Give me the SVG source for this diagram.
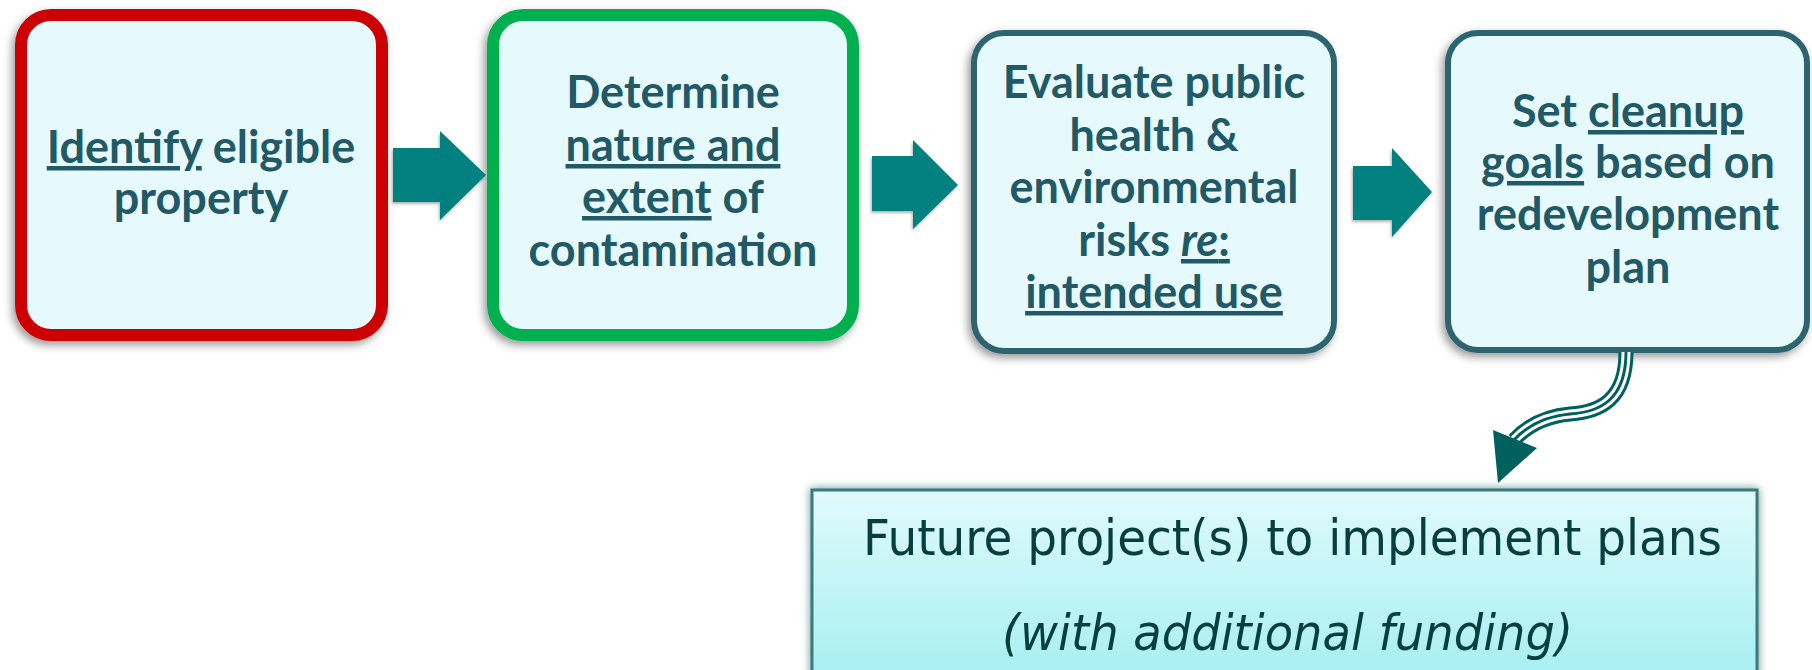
<svg xmlns="http://www.w3.org/2000/svg" width="1812" height="670" viewBox="0 0 1812 670">
<defs>
<style>
.box{fill:#E6FAFD;}
.t{font-family:Lato,"Liberation Sans",sans-serif;font-weight:bold;font-size:45px;fill:#215967;text-anchor:middle;}
.u{text-decoration:underline;}
.blk{fill:#00807E;}
.bt{font-family:"DejaVu Sans","Liberation Sans",sans-serif;font-size:50px;fill:#073F40;}
</style>
<filter id="sh" x="-10%" y="-10%" width="120%" height="125%">
<feDropShadow dx="-3" dy="4" stdDeviation="4" flood-color="#000" flood-opacity="0.4"/>
</filter>
<filter id="ash" x="-20%" y="-20%" width="140%" height="140%">
<feDropShadow dx="-1" dy="2" stdDeviation="1.5" flood-color="#000" flood-opacity="0.3"/>
</filter>
<filter id="glow" x="-5%" y="-10%" width="110%" height="130%">
<feDropShadow dx="0" dy="0" stdDeviation="4" flood-color="#1E5F60" flood-opacity="0.7"/>
</filter>
<linearGradient id="bg" x1="0" y1="0" x2="0" y2="1">
<stop offset="0" stop-color="#E0FAFB"/>
<stop offset="1" stop-color="#A3EEF1"/>
</linearGradient>
</defs>

<g id="node1">
<rect x="21" y="15" width="361" height="320" rx="30" class="box" stroke="#CC0000" stroke-width="12" filter="url(#sh)"/>
<text class="t" x="201" y="163"><tspan class="u">Identify</tspan> eligible</text>
<text class="t" x="201" y="214">property</text>
</g>

<g id="node2">
<rect x="493" y="15" width="360" height="320" rx="30" class="box" stroke="#00B050" stroke-width="12" filter="url(#sh)"/>
<text class="t" x="673" y="108">Determine</text>
<text class="t" x="673" y="161"><tspan class="u">nature and</tspan></text>
<text class="t" x="673" y="213"><tspan class="u">extent</tspan> of</text>
<text class="t" x="673" y="266">contamination</text>
</g>

<g id="node3">
<rect x="974" y="33" width="360" height="318" rx="30" class="box" stroke="#2E6370" stroke-width="6" filter="url(#sh)"/>
<text class="t" x="1154" y="98">Evaluate public</text>
<text class="t" x="1154" y="151">health &amp;</text>
<text class="t" x="1154" y="203">environmental</text>
<text class="t" x="1154" y="256">risks <tspan class="u"><tspan font-style="italic">re</tspan>:</tspan></text>
<text class="t" x="1154" y="308"><tspan class="u">intended use</tspan></text>
</g>

<g id="node4">
<rect x="1448" y="33" width="359" height="317" rx="30" class="box" stroke="#2E6370" stroke-width="6" filter="url(#sh)"/>
<text class="t" x="1628" y="127">Set <tspan class="u">cleanup</tspan></text>
<text class="t" x="1628" y="178"><tspan class="u">goals</tspan> based on</text>
<text class="t" x="1628" y="230">redevelopment</text>
<text class="t" x="1628" y="283">plan</text>
</g>

<g id="node5">
<rect x="812" y="490" width="945" height="200" fill="url(#bg)" stroke="#3A7A7C" stroke-width="3" filter="url(#glow)"/>
<text class="bt" x="863" y="555" textLength="859" lengthAdjust="spacingAndGlyphs">Future project(s) to implement plans</text>
<text class="bt" x="1002" y="650" font-style="italic" textLength="571" lengthAdjust="spacingAndGlyphs">(with additional funding)</text>
</g>

<g id="connectors">
<polygon class="blk" filter="url(#ash)" points="393,148 440,148 440,131 486,175 440,220 440,202 393,202"/>
<polygon class="blk" filter="url(#ash)" points="872,156 913,156 913,140 958,185 913,229 913,211 872,211"/>
<polygon class="blk" filter="url(#ash)" points="1353,166 1392,166 1392,148 1432,192 1392,237 1392,220 1353,220"/>
<g fill="none">
<path d="M1626,352 C1626,400 1600,412 1570,414 C1548,416 1528,425 1514,440" stroke="#00605E" stroke-width="15"/>
<path d="M1626,352 C1626,400 1600,412 1570,414 C1548,416 1528,425 1514,440" stroke="#FFFFFF" stroke-width="9"/>
<path d="M1626,352 C1626,400 1600,412 1570,414 C1548,416 1528,425 1514,440" stroke="#00605E" stroke-width="3"/>
</g>
<polygon points="1493,430 1537,448 1498,483" fill="#00605C"/>
</g>
</svg>
